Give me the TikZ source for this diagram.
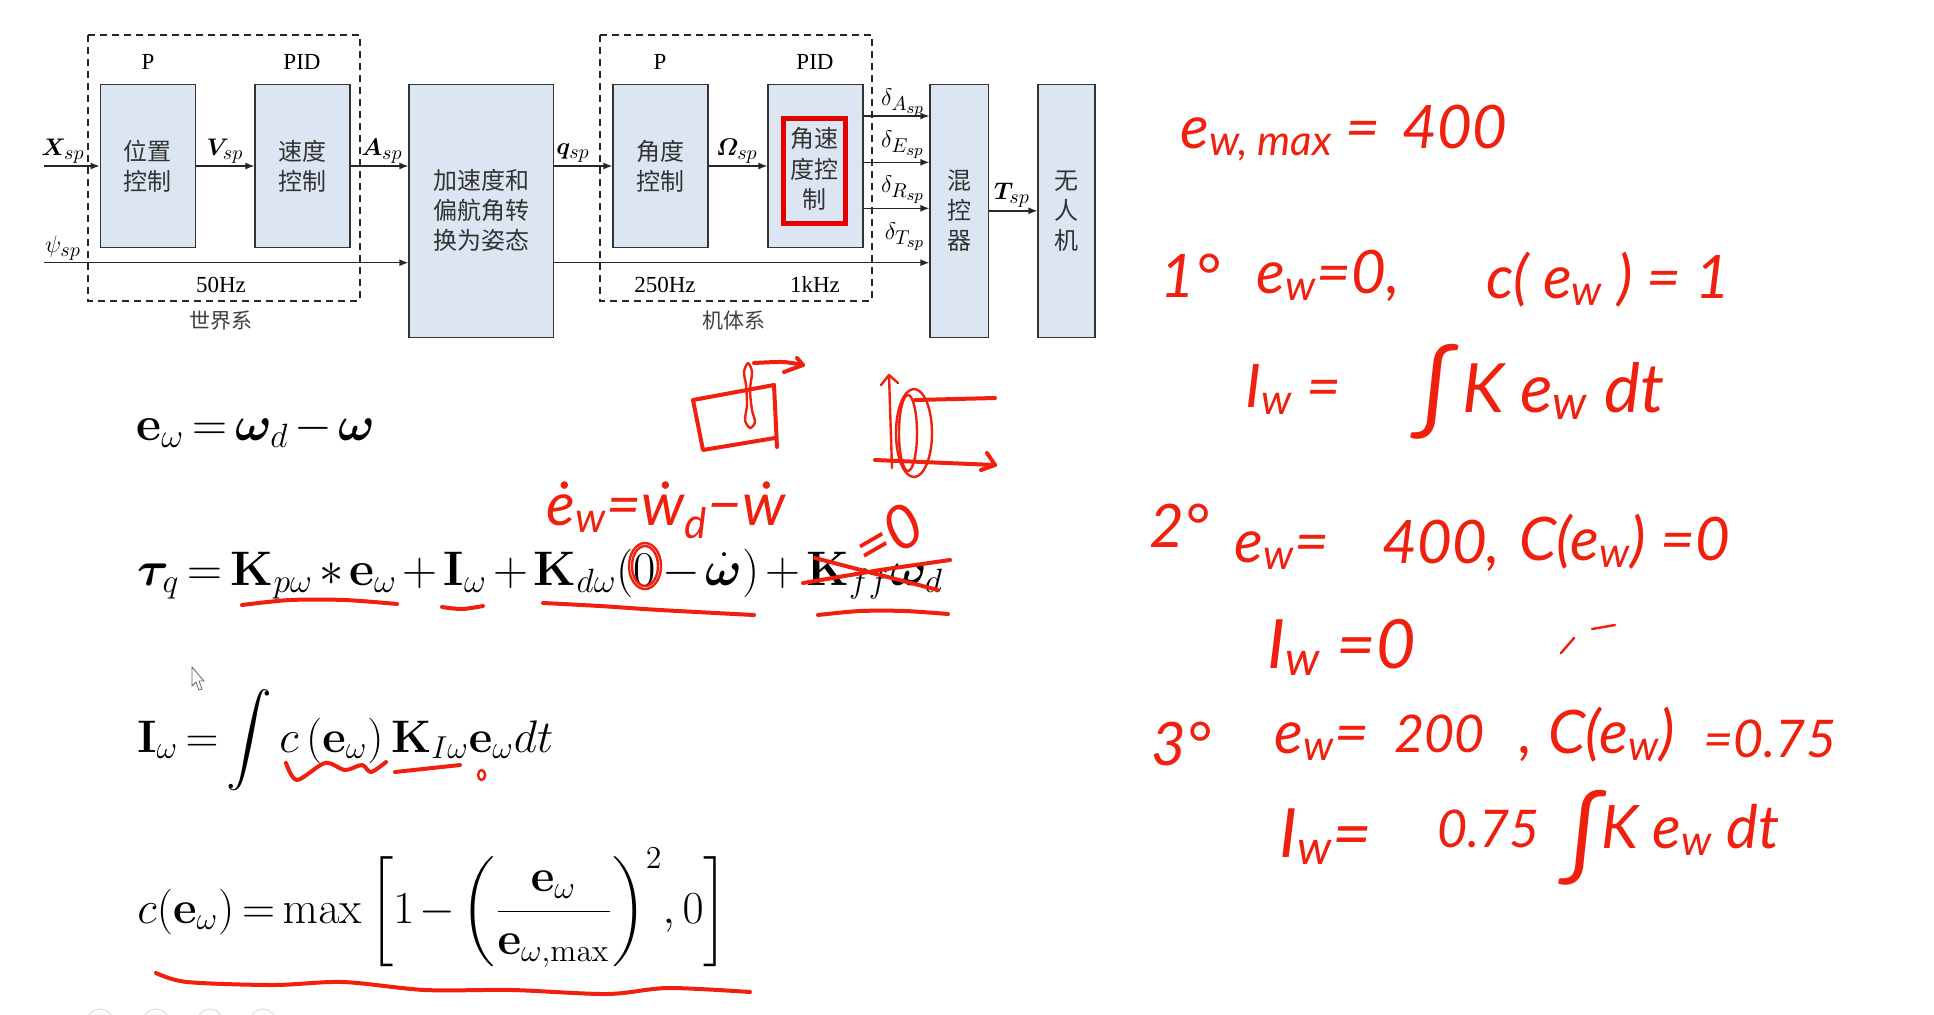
\documentclass[tikz,border=0pt]{standalone}
\usepackage[no-math]{fontspec}
\usepackage{amsmath,amssymb,bm}
\usetikzlibrary{arrows.meta,positioning}
\newfontfamily\cjk{Noto Sans CJK SC}
\newfontfamily\timesfont{Liberation Serif}
\newfontfamily\handfont{Lato}
\DeclareMathSizes{12}{12}{10}{8}
\definecolor{boxblue}{HTML}{DCE6F2}
\definecolor{inkred}{HTML}{F0200F}
\tikzset{
  ctrlbox/.style={draw=black!80,line width=.6pt,fill=boxblue,inner sep=0pt,align=center,text=black!80,
    minimum width=47.5pt,minimum height=81.7pt,font=\cjk\fontsize{12}{15}\selectfont},
  tallbox/.style={ctrlbox,minimum height=126.5pt},
  sig/.style={line width=.7pt,draw=black!85,-{Latex[length=4.5pt,width=3.5pt]}},
  dashbox/.style={line width=.8pt,draw=black!85,dash pattern=on 3.5pt off 2.5pt},
  lab/.style={inner sep=0pt,font=\fontsize{12}{14}\selectfont},
  tlab/.style={inner sep=0pt,font=\timesfont\fontsize{11.5}{14}\selectfont},
  clab/.style={inner sep=0pt,font=\cjk\fontsize{10.5}{14}\selectfont,text=black!75},
  eqn/.style={anchor=base west,inner sep=0pt,font=\fontsize{20.74}{26}\selectfont,scale=1.17,transform shape,
    execute at begin node={\thickmuskip=3mu\medmuskip=2.2mu}},
  ink/.style={draw=inkred,line width=2pt,line cap=round,line join=round},
  thinink/.style={ink,line width=1.2pt},
  hand/.style={anchor=base west,inner sep=0pt,text=inkred,font=\handfont\itshape\fontsize{30}{32}\selectfont},
  handlg/.style={hand,font=\handfont\itshape\fontsize{34}{36}\selectfont},
  handsm/.style={hand,font=\handfont\itshape\fontsize{26}{30}\selectfont},
  handint/.style={hand,font=\handfont\fontsize{48}{50}\selectfont},
}
\begin{document}
\begin{tikzpicture}[x=.5pt,y=-.5pt]
\fill[white] (0,0) rectangle (1934,1014);
\useasboundingbox (0,0) rectangle (1934,1014);
% control blocks
\node[ctrlbox] (pos) at (147.7,166) {位置\\控制};
\node[ctrlbox] (vel) at (302.5,166) {速度\\控制};
\node[tallbox,minimum width=72.3pt] (acc) at (481.3,210.8) {加速度和\\偏航角转\\换为姿态};
\node[ctrlbox] (ang) at (660.5,166) {角度\\控制};
\node[ctrlbox] (rate) at (815.5,166) {};
\node[draw=red!90!black,line width=2.5pt,inner sep=0pt,minimum width=31.1pt,minimum height=52.5pt] (hl) at (814.4,171) {};
\node[inner sep=0pt,align=center,text=black!80,font=\cjk\fontsize{12}{15.4}\selectfont] (hltxt) at (814.4,169) {角速\\度控\\制};
\node[tallbox,minimum width=29.3pt] (mix) at (959.3,210.8) {混\\控\\器};
\node[tallbox,minimum width=28.5pt] (uav) at (1066.5,210.8) {无\\人\\机};
% signals
\coordinate (xin) at (44,166);
\coordinate (psiin) at (44,262.7);
\coordinate (da) at (863,116);
\coordinate (de) at (863,162.3);
\coordinate (dr) at (863,208.3);
\draw[sig] (xin) -- (pos.west);
\draw[sig] (pos.east) -- (vel.west);
\draw[sig] (vel.east) -- (vel.east -| acc.west);
\draw[sig] (ang.west -| acc.east) -- (ang.west);
\draw[sig] (ang.east) -- (rate.west);
\draw[sig] (psiin) -- (psiin -| acc.west);
\draw[sig] (psiin -| acc.east) -- (psiin -| mix.west);
\draw[sig] (da) -- (da -| mix.west);
\draw[sig] (de) -- (de -| mix.west);
\draw[sig] (dr) -- (dr -| mix.west);
\draw[sig] (mix.east) -- (uav.west);
\draw[dashbox] (88,35) rectangle (360,300.7);
\draw[dashbox] (600,35) rectangle (872,300.7);
% labels
\node[lab] (lx) at (63,151) {$\bm{X}_{sp}$};
\node[lab] (lv) at (225,151) {$\bm{V}_{sp}$};
\node[lab] (la) at (382,151) {$\bm{A}_{sp}$};
\node[lab] (lq) at (573,153) {$\bm{q}_{sp}$};
\node[lab] (lpsi) at (63,248) {$\psi_{sp}$};
\node[lab] (lom) at (737,151) {$\bm{\varOmega}_{sp}$};
\node[lab] (lda) at (903,103) {$\delta_{A_{sp}}$};
\node[lab] (lde) at (903,145) {$\delta_{E_{sp}}$};
\node[lab] (ldr) at (903,190) {$\delta_{R_{sp}}$};
\node[lab] (ldt) at (905,237) {$\delta_{T_{sp}}$};
\node[lab] (lt) at (1012,195) {$\bm{T}_{sp}$};
\node[tlab] (p1) at (148,62) {P};
\node[tlab] (pid1) at (302,62) {PID};
\node[tlab] (p2) at (660,62) {P};
\node[tlab] (pid2) at (815,62) {PID};
\node[tlab] (hz1) at (221,285) {50Hz};
\node[tlab] (hz2) at (665,285) {250Hz};
\node[tlab] (hz3) at (815,285) {1kHz};
\node[clab] (world) at (221,321) {世界系};
\node[clab] (body) at (734,321) {机体系};
% equations
\node[eqn] (eq1) at (136,440) {$\mathbf{e}_\omega=\bm{\omega}_d-\bm{\omega}$};
\node[eqn] (eq2) at (137,585) {$\bm{\tau}_q=\mathbf{K}_{p\omega}*\mathbf{e}_\omega+\mathbf{I}_\omega+\mathbf{K}_{d\omega}(0-\dot{\bm{\omega}})+\mathbf{K}_{ff}\bm{\omega}_d$};
\node[eqn,scale=.94] (eq3) at (137,752) {$\mathbf{I}_\omega=\displaystyle\int c\left(\mathbf{e}_\omega\right)\mathbf{K}_{I\omega}\mathbf{e}_\omega dt$};
\node[eqn,scale=.945] (eq4) at (137,923) {$c(\mathbf{e}_\omega)=\max\bigg[1-\bigg(\dfrac{\mathbf{e}_\omega}{\mathbf{e}_{\omega,\max}}\bigg)^{2},0\bigg]$};
% pen strokes on the equations
\draw[ink] plot[smooth] coordinates {(242,605) (290,600) (345,600) (397,604)};
\draw[ink] plot[smooth] coordinates {(442,607) (462,609) (483,606)};
\draw[ink] plot[smooth] coordinates {(543,603) (600,606) (660,610) (754,615)};
\draw[ink] plot[smooth] coordinates {(818,615) (860,611) (905,611) (948,614)};
\draw[ink] (803,583) -- (880,570) -- (950,560);
\draw[ink] (815,558) -- (880,575) -- (938,590);
\draw[thinink] (645,566) ellipse (16 and 23);
\draw[thinink] (645,566) ellipse (13 and 20);
\draw[ink] plot[smooth] coordinates {(286,763) (297,780) (325,763) (345,770) (362,765) (371,772) (386,762)};
\draw[ink] (395,772) -- (460,765);
\draw[thinink] (481.6,775) ellipse (3.5 and 5);
\draw[ink] plot[smooth] coordinates {(156,973) (187,982) (273,985) (343,982) (425,990) (512,990) (607,994) (668,988) (750,992)};
% sketches
\draw[ink] (774,385) -- (693,400) -- (703,450) -- (775,438);
\draw[ink] (774,385) -- (777,447);
\draw[thinink] plot[smooth cycle] coordinates {(750,428) (745,420) (747,405) (746,385) (744,372) (748,363) (752,372) (750,390) (752,410) (755,422)};
\draw[ink] plot[smooth] coordinates {(754,363) (783,362) (803,365)};
\draw[ink] (797,358) -- (803,365) -- (784,372);
\draw[thinink] (889,375) -- (892,468);
\draw[thinink] (881,385) -- (889,375) -- (898,383);
\draw[ink] (875,460) -- (995,465);
\draw[ink] (987,453) -- (995,465) -- (981,470);
\draw[thinink] (914,433) ellipse (18 and 44);
\draw[thinink] (908,433) ellipse (9 and 38);
\draw[ink] (915,400) -- (995,398);
% handwriting
\node[hand] (h1a) at (1180,148) {e\textsubscript{w, max}};
\node[hand] (h1b) at (1345,148) {=};
\node[hand] (h1c) at (1402,148) {400};
\node[hand] (h2a) at (1160,297) {1°};
\node[hand] (h2b) at (1256,293) {e\textsubscript{w}=0,};
\node[hand] (h2c) at (1486,298) {c( e\textsubscript{w} ) = 1};
\node[hand] (h3a) at (1245,407) {I\textsubscript{w} =};
\node[handint] (h3b) at (1410,422) {∫};
\node[handlg] (h3c) at (1462,412) {K e\textsubscript{w} dt};
\node[hand] (h4) at (546,525) {\.{e}\textsubscript{w}=ẇ\textsubscript{d}−ẇ};
\node[hand,rotate=30] (h5) at (868,572) {=0};
\node[hand] (h6a) at (1149,547) {2°};
\node[hand] (h6b) at (1234,562) {e\textsubscript{w}=};
\node[hand] (h6c) at (1382,563) {400,};
\node[hand] (h6d) at (1519,560) {C(e\textsubscript{w}) =0};
\node[handlg] (h7) at (1267,668) {I\textsubscript{w} =0};
\draw[thinink] (1561,653) -- (1574,638);
\draw[thinink] (1592,629) -- (1615,625);
\node[hand] (h8a) at (1151,765) {3°};
\node[hand] (h8b) at (1274,753) {e\textsubscript{w}=};
\node[handsm] (h8c) at (1394,752) {200};
\node[hand] (h8d) at (1519,753) {,};
\node[hand] (h8e) at (1548,753) {C(e\textsubscript{w})};
\node[handsm] (h8f) at (1703,757) {=0.75};
\node[handlg] (h9a) at (1279,857) {I\textsubscript{w}=};
\node[handsm] (h9b) at (1437,847) {0.75};
\node[handint] (h9c) at (1558,868) {∫};
\node[hand] (h9d) at (1601,848) {K e\textsubscript{w} dt};
% cursor and toolbar
\draw[black!60,fill=white,line width=.4pt] (192,667) -- (192,686) -- (196,682) -- (199,690) -- (202,689) -- (199,681) -- (204,681) -- cycle;
\begin{scope}
\clip (0,990) rectangle (400,1014);
\draw[black!12,line width=.6pt] (100,1022) circle (13) (156,1022) circle (13) (210,1022) circle (13) (263,1022) circle (13);
\end{scope}
\end{tikzpicture}
\end{document}
